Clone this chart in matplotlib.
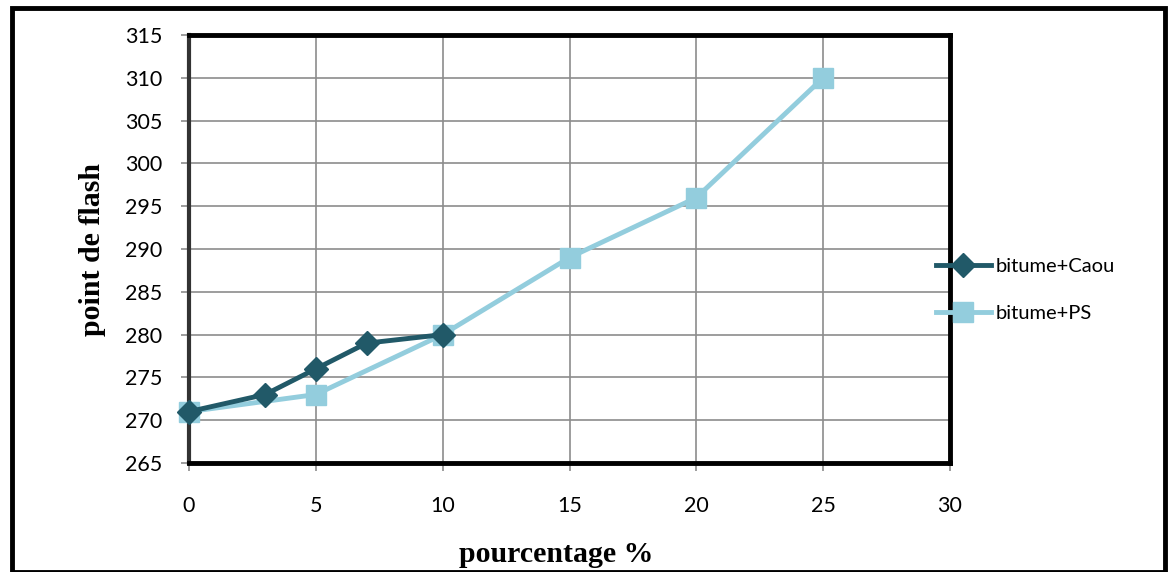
import matplotlib
matplotlib.use("Agg")
import matplotlib.pyplot as plt
from matplotlib.lines import Line2D
from matplotlib.patches import Rectangle

# Flash point vs. additive percentage
caou_pct = [0, 3, 5, 7, 10]
caou_flash = [271, 273, 276, 279, 280]
ps_pct = [0, 5, 10, 15, 20, 25]
ps_flash = [271, 273, 280, 289, 296, 310]
x_ticks = [0, 5, 10, 15, 20, 25, 30]
y_ticks = [265, 270, 275, 280, 285, 290, 295, 300, 305, 310, 315]

dark = "#215968"
light = "#93CDDD"

W, H = 1171, 572
fig = plt.figure(figsize=(W / 100, H / 100), dpi=100)
fig.patches.append(Rectangle((12 / W, 0.5 / H), (1165 - 12) / W, (H - 8 - 0.5) / H,
                             transform=fig.transFigure, fill=False,
                             edgecolor="black", linewidth=3.5))

ax = fig.add_axes([189 / W, 1 - 463 / H, (950 - 189) / W, (463 - 35) / H])
ax.set_xlim(0, 30)
ax.set_ylim(265, 315)
ax.set_xticks(x_ticks)
ax.set_yticks(y_ticks)
ax.grid(True, color="#8c8c8c", linewidth=1.2)
ax.set_axisbelow(True)

for side in ["top", "right", "bottom"]:
    ax.spines[side].set_linewidth(3.5)
    ax.spines[side].set_color("black")
ax.spines["left"].set_linewidth(3.0)
ax.spines["left"].set_color("#333333")

ax.tick_params(axis="both", direction="out", length=6, width=1.2, color="#8c8c8c",
               labelsize=15.5, labelcolor="black")
ax.tick_params(axis="x", pad=18)
ax.tick_params(axis="y", pad=13)
for lab in ax.get_xticklabels() + ax.get_yticklabels():
    lab.set_fontfamily("Lato")

ax.plot(caou_pct, caou_flash, color=dark, linewidth=3.5, marker="D", markersize=12,
        clip_on=False, zorder=4, label="bitume+Caou")
ax.plot(ps_pct, ps_flash, color=light, linewidth=3.5, marker="s", markersize=15,
        clip_on=False, zorder=3, label="bitume+PS")

leg = fig.legend(handles=[
    Line2D([], [], color=dark, linewidth=3.5, marker="D", markersize=12),
    Line2D([], [], color=light, linewidth=3.5, marker="s", markersize=15)],
    labels=["bitume+Caou", "bitume+PS"],
    loc="center left", bbox_to_anchor=(918 / W, 1 - 290 / H),
    frameon=False, handlelength=2.7, handletextpad=0.25, labelspacing=1.45,
    prop={"family": "Lato", "size": 14.5})

fig.text(93 / W, 1 - 249 / H, "point de flash", rotation=90, ha="center", va="center",
         fontfamily="Liberation Serif", fontweight="bold", fontsize=21.5)
fig.text(556 / W, 1 - 555 / H, "pourcentage %", ha="center", va="center",
         fontfamily="Liberation Serif", fontweight="bold", fontsize=21.5)

fig.savefig("out.png", dpi=100)
